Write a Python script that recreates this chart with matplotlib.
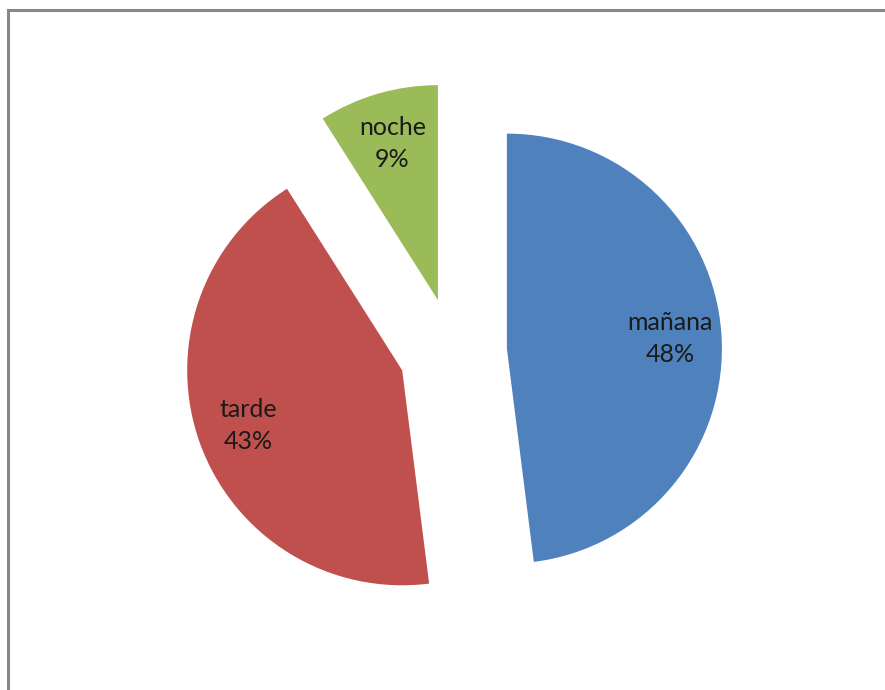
import matplotlib.pyplot as plt

# turno del dia
labels = ["mañana", "tarde", "noche"]
values = [48, 43, 9]
colors = ["#4F81BD", "#C0504D", "#9BBB59"]

W, H = 885, 690
fig = plt.figure(figsize=(W / 100, H / 100), dpi=100)
ax = fig.add_axes([0, 0, 1, 1])

# grey chart frame, only left and top edges are inside the screenshot
ax.plot([8, 8, W + 50], [-50, H - 10, H - 10], color="#878787",
        linewidth=2.2, solid_joinstyle="miter")

it = iter(labels)
wedges, texts = ax.pie(values, colors=colors, startangle=90, counterclock=False,
                       radius=215, center=(453, H - 352), explode=[54] * 3,
                       autopct=lambda p: "{}\n{:.0f}%".format(next(it), p),
                       pctdistance=0.76, frame=True,
                       textprops={"fontsize": 18, "family": ["Lato", "DejaVu Sans"],
                                  "color": "#1a1a1a", "linespacing": 1.45})[:2]
ax.set_xlim(0, W)
ax.set_ylim(0, H)
ax.set_aspect("equal")
ax.axis("off")

fig.savefig("out.png", dpi=100)
